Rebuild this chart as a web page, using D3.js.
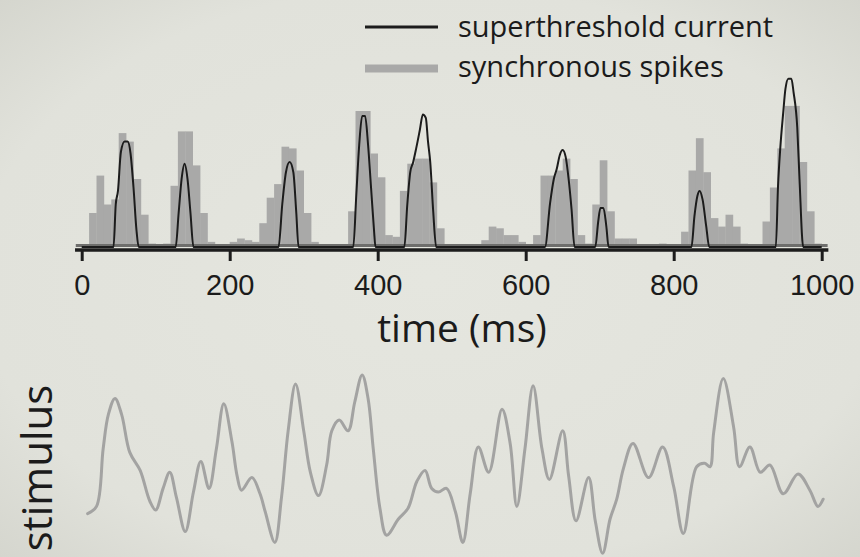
<!DOCTYPE html>
<html>
<head>
<meta charset="utf-8">
<script src="https://cdn.jsdelivr.net/npm/d3@7"></script>
<style>
  html, body { margin: 0; padding: 0; background: #e2e3dc; }
  svg { display: block; }
  text { font-family: "Open Sans", "DejaVu Sans", sans-serif; fill: #1b1b1b; }
</style>
</head>
<body>
<div id="chart"></div>
<script>
// synchronous spikes histogram: 10 ms bins starting at 0
var binWidth = 10;
var spikeCounts = [
  0, 20, 42, 25, 28, 67, 62, 40, 19, 2,
  0, 2, 36, 68, 68, 48, 20, 3, 0, 0,
  3, 5, 4, 3, 14, 29, 37, 59, 58, 45,
  20, 3, 0, 0, 0, 0, 21, 80, 80, 55,
  41, 7, 6, 33, 49, 52, 52, 38, 11, 0,
  0, 0, 0, 0, 4, 12, 11, 7, 7, 3,
  0, 7, 42, 42, 45, 52, 40, 7, 2, 25,
  51, 21, 5, 5, 5, 0, 0, 0, 2, 0,
  0, 9, 45, 64, 44, 17, 12, 19, 12, 2,
  0, 0, 15, 35, 58, 83, 83, 50, 21, 2
];

// superthreshold current (black line)
var currentTime = [0,
  43, 46, 49, 53, 58, 62, 66, 70, 74, 77,
  127, 131, 135, 139, 143, 147, 151,
  266, 271, 276, 281, 286, 290, 293,
  367, 371, 375, 379, 383, 387, 391, 395, 397,
  436, 440, 444, 448, 452, 457, 461, 465, 468, 471, 475, 479,
  626, 633, 638, 642, 646, 650, 654, 658, 662, 666,
  694, 698, 701, 705, 709, 712,
  824, 828, 832, 835, 839, 844, 848,
  938, 941, 944, 948, 951, 955, 959, 962, 967, 970, 975,
  1000];
var currentValue = [0,
  0, 25, 33, 56, 62, 62, 55, 35, 10, 0,
  0, 20, 40, 49, 40, 20, 0,
  0, 25, 44, 50, 44, 20, 0,
  0, 30, 60, 77, 77, 60, 35, 10, 0,
  0, 25, 44, 50, 58, 69, 78, 76, 62, 50, 21, 0,
  0, 26, 40, 46, 54, 57, 53, 40, 22, 0,
  0, 15, 23, 23, 12, 0,
  0, 18, 30, 33, 28, 12, 0,
  0, 36, 58, 79, 93, 99, 99, 91, 70, 40, 0,
  0];

// stimulus trace (lower panel)
var stimTime = [8, 20, 29, 36, 45, 54, 65, 79, 92, 100, 110, 119, 128, 140, 151, 161, 172,
  182, 192, 203, 210, 216, 230, 241, 248, 261, 270, 279, 289, 300, 309, 320, 331, 338,
  348, 360, 369, 379, 387, 394, 403, 412, 428, 441, 453, 464, 473, 482, 493, 505, 515,
  525, 536, 550, 568, 579, 588, 599, 610, 622, 632, 650, 658, 668, 685, 694, 704, 714,
  723, 732, 745, 766, 785, 800, 813, 831, 842, 849, 854, 867, 881, 889, 903, 917, 930,
  948, 968, 984, 995, 1002];
var stimValue = [0.23, 0.27, 0.59, 0.78, 0.87, 0.78, 0.57, 0.47, 0.30, 0.25, 0.37, 0.46, 0.32, 0.13, 0.35, 0.52, 0.37,
  0.59, 0.84, 0.63, 0.44, 0.36, 0.43, 0.34, 0.24, 0.07, 0.32, 0.69, 0.95, 0.69, 0.46, 0.33, 0.50, 0.69,
  0.75, 0.69, 0.85, 1.00, 0.87, 0.59, 0.26, 0.11, 0.20, 0.26, 0.41, 0.47, 0.37, 0.35, 0.37, 0.24, 0.07,
  0.34, 0.60, 0.46, 0.81, 0.62, 0.27, 0.59, 0.94, 0.59, 0.42, 0.69, 0.44, 0.19, 0.43, 0.19, 0.01, 0.20,
  0.31, 0.48, 0.62, 0.43, 0.60, 0.38, 0.12, 0.49, 0.51, 0.49, 0.68, 0.98, 0.71, 0.49, 0.60, 0.46, 0.50,
  0.34, 0.45, 0.36, 0.27, 0.31];

var tickValues = [0, 200, 400, 600, 800, 1000];

var width = 860, height = 557;

var svg = d3.select("#chart").append("svg")
    .attr("width", width)
    .attr("height", height);

var defs = svg.append("defs");
var grad = defs.append("radialGradient")
    .attr("id", "bg")
    .attr("cx", "50%").attr("cy", "50%").attr("r", "75%");
grad.append("stop").attr("offset", "0%").attr("stop-color", "#e5e6df");
grad.append("stop").attr("offset", "70%").attr("stop-color", "#e1e2db");
grad.append("stop").attr("offset", "100%").attr("stop-color", "#d2d3cb");

svg.append("rect")
    .attr("width", width)
    .attr("height", height)
    .attr("fill", "url(#bg)");

var x = d3.scaleLinear()
    .domain([0, 1000])
    .range([81.7, 821.7]);

var y = d3.scaleLinear()
    .domain([0, 100])
    .range([247, 77]);

var yStim = d3.scaleLinear()
    .domain([0, 1])
    .range([555, 375]);

// histogram bars
svg.append("g")
  .selectAll("rect")
  .data(spikeCounts)
  .enter()
  .append("rect")
    .attr("x", (d, i) => x(i * binWidth))
    .attr("y", d => y(d))
    .attr("width", (d, i) => x((i + 1) * binWidth) - x(i * binWidth) + 0.3)
    .attr("height", d => y(0) - y(d))
    .attr("fill", "#a9a9a8");

// gray baseline under bars
svg.append("line")
    .attr("x1", x(-8)).attr("x2", x(1008))
    .attr("y1", y(0) - 1.5).attr("y2", y(0) - 1.5)
    .attr("stroke", "#6e6e6c")
    .attr("stroke-width", 3);

// superthreshold current
var currentLine = d3.line()
    .x(d => x(d[0]))
    .y(d => y(d[1]))
    .curve(d3.curveMonotoneX);

svg.append("path")
    .datum(currentTime.map((t, i) => [t, currentValue[i]]))
    .attr("d", currentLine)
    .attr("fill", "none")
    .attr("stroke", "#1c1c1c")
    .attr("stroke-width", 2)
    .attr("stroke-linejoin", "round");

// x axis
var xAxis = svg.append("g")
    .attr("transform", "translate(0,250)")
    .call(d3.axisBottom(x)
      .tickValues(tickValues)
      .tickFormat(d3.format("d"))
      .tickSize(11)
      .tickSizeOuter(0));

xAxis.select(".domain").remove();
xAxis.selectAll(".tick line")
    .attr("stroke", "#1c1c1c")
    .attr("stroke-width", 3);
xAxis.selectAll(".tick text")
    .attr("y", 45)
    .attr("dy", null)
    .attr("fill", "#1b1b1b")
    .style("font-family", "'Liberation Sans', Arial, sans-serif")
    .style("font-size", "29px");

xAxis.append("line")
    .attr("x1", x(-9)).attr("x2", x(1009))
    .attr("y1", 0).attr("y2", 0)
    .attr("stroke", "#1c1c1c")
    .attr("stroke-width", 3.5);

svg.append("text")
    .attr("x", 462)
    .attr("y", 342)
    .attr("text-anchor", "middle")
    .style("font-size", "39px")
    .text("time (ms)");

// legend
svg.append("line")
    .attr("x1", 365).attr("x2", 438)
    .attr("y1", 27).attr("y2", 27)
    .attr("stroke", "#1c1c1c")
    .attr("stroke-width", 3);
svg.append("text")
    .attr("x", 458).attr("y", 37)
    .style("font-size", "29px")
    .text("superthreshold current");

svg.append("line")
    .attr("x1", 365).attr("x2", 438)
    .attr("y1", 68.5).attr("y2", 68.5)
    .attr("stroke", "#a9a9a8")
    .attr("stroke-width", 8);
svg.append("text")
    .attr("x", 458).attr("y", 77)
    .style("font-size", "29px")
    .text("synchronous spikes");

// stimulus
var stimLine = d3.line()
    .x(d => x(d[0]))
    .y(d => yStim(d[1]))
    .curve(d3.curveCatmullRom.alpha(0.5));

svg.append("path")
    .datum(stimTime.map((t, i) => [t, stimValue[i]]))
    .attr("d", stimLine)
    .attr("fill", "none")
    .attr("stroke", "#a3a3a2")
    .attr("stroke-width", 3)
    .attr("stroke-linejoin", "round")
    .attr("stroke-linecap", "round");

svg.append("text")
    .attr("transform", "translate(52,468) rotate(-90)")
    .attr("text-anchor", "middle")
    .style("font-size", "42px")
    .text("stimulus");
</script>
</body>
</html>
